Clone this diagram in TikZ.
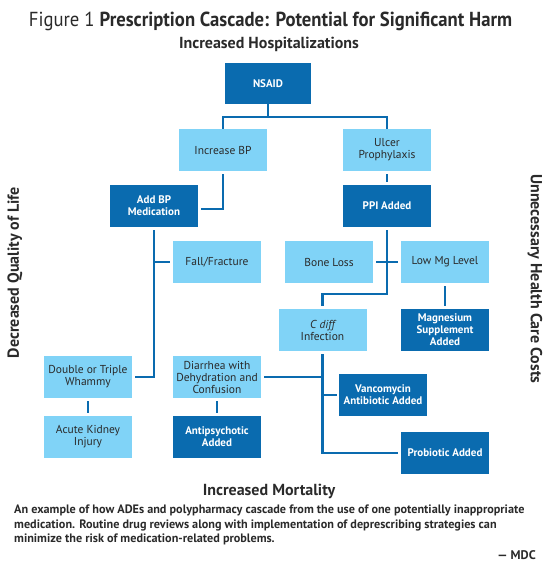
\documentclass[tikz,border=0pt]{standalone}
\usepackage{fontspec}
\setmainfont{PT Sans}
\newfontfamily\titlefont[FakeStretch=0.92]{PT Sans}
\usepackage{xcolor}
\usetikzlibrary{positioning}

\definecolor{darkblue}{HTML}{0A6BAF}
\definecolor{lightblue}{HTML}{80D3F7}
\definecolor{boxtext}{HTML}{2A2A2A}

\begin{document}
\begin{tikzpicture}[
    x=1pt, y=-1pt,
    font=\fontsize{11.5}{12}\selectfont,
    box/.style={align=center, minimum width=88pt, minimum height=42pt, inner sep=2pt},
    lightbox/.style={box, fill=lightblue, text=boxtext},
    darkbox/.style={box, fill=darkblue, text=white, font=\fontsize{11}{12}\selectfont\bfseries},
    link/.style={draw=darkblue, line width=2.3pt},
    gap/.style={shorten <=3pt, shorten >=3pt},
    sidelabel/.style={font=\fontsize{16}{18}\selectfont\bfseries, text=boxtext}
]
\useasboundingbox (0,0) rectangle (550,571);

% --- headings ---
\node[anchor=base, text=boxtext] (title) at (270.5,26.7)
    {\titlefont\fontsize{20.3}{24}\selectfont Figure 1 \textbf{Prescription Cascade: Potential for Significant Harm}};
\node[sidelabel, anchor=base] (top) at (269,48.3) {Increased Hospitalizations};
\node[sidelabel, anchor=base] (bottom) at (269,495) {Increased Mortality};
\node[sidelabel, rotate=90] (left) at (15,272.5) {Decreased Quality of Life};
\node[sidelabel, rotate=-90] (right) at (535,279) {Unnecessary Health Care Costs};

% --- first drug and its two effects ---
\node[darkbox, minimum width=86pt, minimum height=41pt] (nsaid) at (268,83.5) {NSAID};
\node[lightbox] (incbp) at (223,150) {Increase BP};
\node[lightbox] (ulcer) at (387,150) {Ulcer\\Prophylaxis};

% --- second drugs ---
\node[darkbox] (addbp) at (154,206) {Add BP\\Medication};
\node[darkbox] (ppi) at (387,206) {PPI Added};

% --- harms of the second drugs ---
\node[lightbox] (fall) at (217,262) {Fall/Fracture};
\node[lightbox] (boneloss) at (329,262) {Bone Loss};
\node[lightbox] (lowmg) at (445,262) {Low Mg Level};
\node[lightbox] (cdiff) at (322.5,330) {{\itshape C diff}\\Infection};
\node[darkbox] (magnesium) at (445,330) {Magnesium\\Supplement\\Added};

% --- lower cascade ---
\node[lightbox] (whammy) at (88,377) {Double or Triple\\Whammy};
\node[lightbox] (diarrhea) at (217,377) {Diarrhea with\\Dehydration and\\Confusion};
\node[darkbox] (vanco) at (383,395) {Vancomycin\\Antibiotic Added};
\node[lightbox] (kidney) at (88,437) {Acute Kidney\\Injury};
\node[darkbox] (antipsych) at (217,437) {Antipsychotic\\Added};
\node[darkbox] (probiotic) at (445,453) {Probiotic Added};

% connectors
\draw[link] (nsaid) -- ++(0,33.2) coordinate (split);
\draw[link] (incbp.north) |- (split) -| (ulcer.north);
\draw[link, gap] (incbp.south) |- ([yshift=-3pt]addbp.east);
\draw[link, gap] (ulcer) -- (ppi);
\draw[link, gap] (addbp.south) |- (whammy.east);
\draw[link, shorten >=3pt] (addbp.south |- fall.west) -- (fall.west);
\draw[link, gap] (ppi.south) -- ++(0,66.5) -| (cdiff.north);
\draw[link, gap] (boneloss.east) -- (lowmg.west);
\draw[link, gap] (lowmg) -- (magnesium);
\draw[link, gap] (cdiff.south) |- (probiotic.west);
\draw[link, shorten <=3pt] (diarrhea.east) -- (diarrhea.east -| cdiff.south);
\draw[link, shorten >=2pt] (cdiff.south |- vanco.west) -- (vanco.west);
\draw[link, gap] (whammy) -- (kidney);
\draw[link, gap] (diarrhea) -- (antipsych);

% --- note under the chart ---
\node[anchor=north west, align=left, text=boxtext, inner sep=0pt,
      font=\fontsize{12.2}{14.5}\selectfont\bfseries] (note) at (14,505)
    {An example of how ADEs and polypharmacy cascade from the use of one potentially inappropriate\\
     medication. Routine drug reviews along with implementation of deprescribing strategies can\\
     minimize the risk of medication-related problems.};
\node[anchor=base east, inner sep=0pt, text=boxtext, font=\fontsize{12.5}{14}\selectfont\bfseries] (source) at (536,559.3) {--- MDC};

\end{tikzpicture}
\end{document}
